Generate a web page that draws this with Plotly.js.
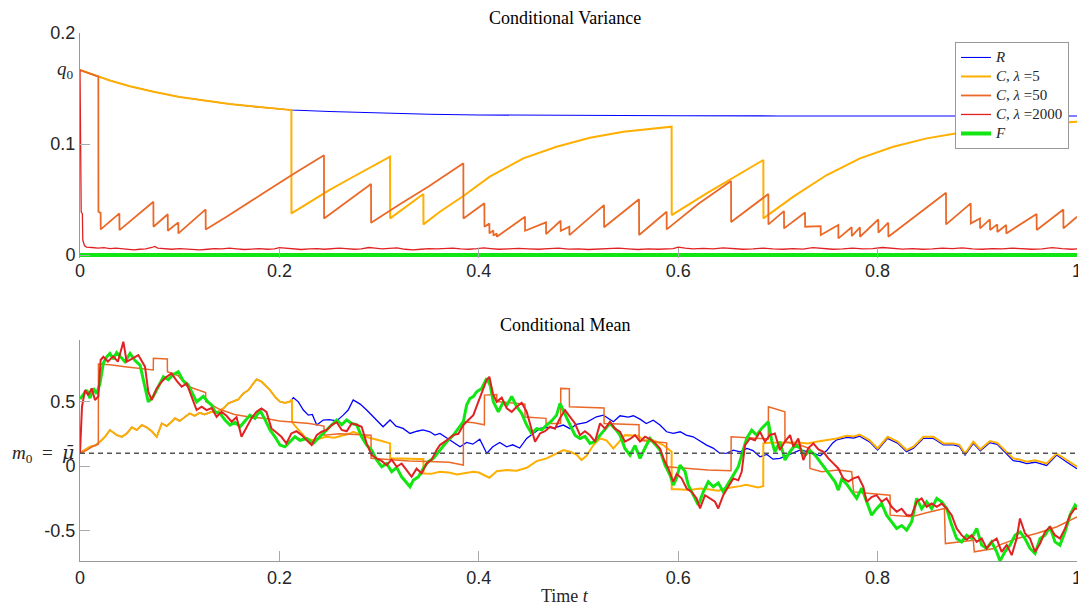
<!DOCTYPE html>
<html><head><meta charset="utf-8">
<script src="https://cdn.plot.ly/plotly-3.0.1.min.js"></script>
<style>html,body{margin:0;padding:0;background:#fff}#chart{width:1078px;height:606px}</style>
</head><body><div id="chart"></div>
<script>
// ---------- constants / labels ----------
const Q0 = 0.1667;
const M0 = 0.1;
const seriesNames = ['<i>R</i>', '<i>C</i>, <i>λ</i> =5', '<i>C</i>, <i>λ</i> =50', '<i>C</i>, <i>λ</i> =2000', '<i>F</i>'];
const seriesColors = ['#0000FF', '#FFAF00', '#EB6928', '#E12222', '#12E612'];
const xTicks = [0, 0.2, 0.4, 0.6, 0.8, 1];
const xTickText = ['0', '0.2', '0.4', '0.6', '0.8', '1'];
const varTicks = [0, 0.1, 0.2];
const varTickText = ['0', '0.1', '0.2'];
const meanTicks = [-0.5, 0, 0.5];
const meanTickText = ['-0.5', '0', '0.5'];

// ---------- conditional variance [t, q] ----------
const varR = [[0,0.1667],[0.01,0.1633],[0.02,0.1601],[0.03,0.1572],[0.05,0.1521],[0.075,0.1468],[0.1,0.1424],[0.125,0.1389],[0.15,0.136],[0.175,0.1337],[0.2,0.1318],[0.212,0.1306],[0.25,0.1293],[0.3,0.1278],[0.35,0.1268],[0.4,0.1262],[0.5,0.1256],[0.6,0.1254],[0.7,0.1253],[0.8,0.1252],[0.9,0.1252],[1,0.1252]];
const varC5 = [[0,0.1667],[0.01,0.1633],[0.02,0.1601],[0.03,0.1572],[0.05,0.1521],[0.075,0.1468],[0.1,0.1424],[0.125,0.1389],[0.15,0.136],[0.175,0.1337],[0.2,0.1318],[0.212,0.1306],[0.2121,0.0375],[0.23,0.0478],[0.25,0.0585],[0.27,0.0685],[0.29,0.0785],[0.311,0.0886],[0.3111,0.033],[0.328,0.0445],[0.3444,0.055],[0.3445,0.0276],[0.361,0.039],[0.3845,0.0532],[0.411,0.0706],[0.4446,0.0871],[0.478,0.0976],[0.5115,0.1057],[0.545,0.1111],[0.5934,0.1156],[0.5935,0.036],[0.6285,0.0556],[0.662,0.0736],[0.6854,0.0856],[0.6855,0.033],[0.7155,0.0526],[0.749,0.0721],[0.7823,0.0871],[0.8157,0.0976],[0.8493,0.1051],[0.8826,0.1102],[0.916,0.1141],[0.95,0.1172],[1,0.12]];
const varC50 = [[0,0.1667],[0.01,0.1633],[0.0184,0.1606],[0.0185,0.039],[0.0207,0.038],[0.0208,0.0231],[0.0395,0.0375],[0.0396,0.0225],[0.0736,0.048],[0.0737,0.0255],[0.088,0.0367],[0.0881,0.0219],[0.0986,0.0294],[0.0987,0.0195],[0.126,0.0411],[0.1261,0.0231],[0.147,0.0345],[0.181,0.054],[0.214,0.073],[0.2447,0.0898],[0.2448,0.033],[0.2919,0.064],[0.292,0.0291],[0.32,0.0454],[0.35,0.062],[0.3845,0.0826],[0.3846,0.033],[0.4056,0.0466],[0.4057,0.0255],[0.4106,0.0285],[0.4107,0.0195],[0.4146,0.0222],[0.4147,0.0175],[0.418,0.0195],[0.4181,0.0165],[0.4463,0.0345],[0.4464,0.0219],[0.4674,0.0294],[0.4675,0.0189],[0.4821,0.0309],[0.4822,0.0219],[0.4908,0.0255],[0.4909,0.018],[0.5256,0.045],[0.5257,0.025],[0.5607,0.0502],[0.5608,0.018],[0.5884,0.039],[0.5885,0.0231],[0.62,0.046],[0.653,0.0667],[0.6531,0.0297],[0.6904,0.055],[0.6905,0.0276],[0.7061,0.0396],[0.7062,0.024],[0.7272,0.0384],[0.7273,0.0255],[0.7429,0.0261],[0.743,0.018],[0.7606,0.027],[0.7607,0.015],[0.774,0.025],[0.7741,0.0171],[0.7823,0.025],[0.7824,0.0165],[0.8007,0.0321],[0.8008,0.0201],[0.8107,0.0291],[0.8108,0.0165],[0.8686,0.0561],[0.8687,0.0276],[0.8934,0.0466],[0.8935,0.0285],[0.9027,0.033],[0.9028,0.024],[0.9127,0.0321],[0.9128,0.0225],[0.92,0.0276],[0.9201,0.0207],[0.929,0.027],[0.9291,0.0195],[0.9595,0.037],[0.9596,0.0225],[0.9863,0.0411],[0.9864,0.024],[1,0.0345]];
const varC2000 = [[0,0.1667],[0.0012,0.039],[0.0024,0.037],[0.0028,0.0135],[0.0045,0.0085],[0.0064,0.0072],[0.012,0.0068],[0.018,0.0062],[0.024,0.0066],[0.03,0.0058],[0.036,0.0062],[0.042,0.0055],[0.048,0.0052],[0.054,0.0047],[0.06,0.0052],[0.066,0.0055],[0.072,0.0068],[0.075,0.0078],[0.078,0.0062],[0.085,0.0056],[0.092,0.0052],[0.1,0.0058],[0.107,0.0054],[0.114,0.0048],[0.12,0.0046],[0.128,0.0052],[0.135,0.0058],[0.142,0.0055],[0.15,0.0062],[0.157,0.0056],[0.165,0.005],[0.172,0.0054],[0.18,0.0058],[0.188,0.0052],[0.195,0.0055],[0.2,0.0066],[0.207,0.0062],[0.215,0.0056],[0.222,0.005],[0.23,0.0055],[0.238,0.0058],[0.245,0.0052],[0.252,0.0055],[0.26,0.0062],[0.267,0.0058],[0.275,0.0052],[0.282,0.0056],[0.29,0.0068],[0.296,0.0062],[0.303,0.0055],[0.31,0.006],[0.318,0.0064],[0.326,0.0052],[0.334,0.0047],[0.342,0.0052],[0.35,0.0058],[0.358,0.0055],[0.366,0.006],[0.374,0.0062],[0.382,0.0056],[0.39,0.0052],[0.398,0.0057],[0.405,0.0064],[0.412,0.0058],[0.42,0.0052],[0.43,0.0056],[0.44,0.006],[0.45,0.0055],[0.46,0.0052],[0.47,0.0058],[0.48,0.0062],[0.49,0.0054],[0.5,0.0056],[0.51,0.005],[0.52,0.0055],[0.53,0.0058],[0.54,0.0062],[0.55,0.0055],[0.56,0.005],[0.57,0.0056],[0.58,0.0052],[0.595,0.0058],[0.6,0.0072],[0.607,0.0062],[0.615,0.0056],[0.625,0.006],[0.635,0.0055],[0.645,0.0065],[0.655,0.0058],[0.665,0.0052],[0.675,0.0056],[0.685,0.0062],[0.695,0.0055],[0.705,0.0052],[0.715,0.0058],[0.725,0.0054],[0.735,0.0066],[0.745,0.0058],[0.755,0.0052],[0.765,0.0056],[0.775,0.0062],[0.785,0.0055],[0.795,0.0058],[0.805,0.0068],[0.815,0.006],[0.825,0.0054],[0.835,0.0058],[0.845,0.0052],[0.855,0.0056],[0.865,0.0062],[0.875,0.0058],[0.885,0.0064],[0.895,0.0056],[0.905,0.0052],[0.915,0.0058],[0.925,0.0055],[0.935,0.0062],[0.945,0.0058],[0.955,0.0052],[0.965,0.0056],[0.975,0.0066],[0.985,0.0058],[0.995,0.0052],[1,0.0056]];
const varF = [[0,0],[1,0]];

// ---------- conditional mean [t, m] ----------
const meanC5 = [[0,0.103],[0.005,0.13],[0.01,0.15],[0.015,0.16],[0.0184,0.176],[0.02,0.189],[0.025,0.227],[0.03,0.279],[0.0334,0.26],[0.037,0.24],[0.042,0.227],[0.047,0.253],[0.052,0.3],[0.057,0.28],[0.062,0.318],[0.067,0.3],[0.072,0.27],[0.077,0.227],[0.082,0.331],[0.087,0.31],[0.092,0.344],[0.0953,0.37],[0.1,0.35],[0.105,0.377],[0.11,0.408],[0.115,0.39],[0.12,0.413],[0.125,0.4],[0.132,0.421],[0.137,0.415],[0.1438,0.447],[0.1488,0.486],[0.154,0.499],[0.1588,0.517],[0.1638,0.563],[0.169,0.589],[0.1739,0.641],[0.1772,0.672],[0.1822,0.654],[0.1856,0.628],[0.1906,0.589],[0.1956,0.537],[0.2006,0.499],[0.2056,0.49],[0.2106,0.5],[0.2126,0.517],[0.2127,0.34],[0.217,0.3],[0.222,0.26],[0.227,0.215],[0.234,0.2],[0.24,0.21],[0.247,0.227],[0.255,0.22],[0.264,0.24],[0.27,0.25],[0.274,0.266],[0.28,0.25],[0.29,0.22],[0.3,0.2],[0.306,0.185],[0.311,0.176],[0.3111,0.06],[0.32,0.058],[0.33,0.052],[0.34,0.055],[0.3444,0.055],[0.3445,-0.057],[0.352,-0.06],[0.361,-0.044],[0.37,-0.05],[0.378,-0.065],[0.3945,-0.044],[0.4,-0.05],[0.4106,-0.09],[0.418,-0.04],[0.428,-0.031],[0.438,-0.035],[0.448,-0.013],[0.458,0.039],[0.468,0.06],[0.478,0.098],[0.4848,0.124],[0.4915,0.111],[0.498,0.09],[0.503,0.047],[0.508,0.08],[0.515,0.163],[0.5216,0.214],[0.528,0.2],[0.535,0.137],[0.5466,0.24],[0.553,0.235],[0.56,0.235],[0.565,0.2],[0.575,0.2],[0.585,0.163],[0.5934,0.111],[0.5935,-0.18],[0.6,-0.18],[0.61,-0.186],[0.622,-0.173],[0.63,-0.18],[0.64,-0.19],[0.65,-0.17],[0.655,-0.165],[0.662,-0.155],[0.668,-0.145],[0.675,-0.155],[0.68,-0.165],[0.6853,-0.155],[0.6854,0.176],[0.69,0.18],[0.7,0.183],[0.71,0.183],[0.72,0.182],[0.73,0.176],[0.74,0.19],[0.75,0.2],[0.759,0.214],[0.769,0.235],[0.776,0.23],[0.782,0.245],[0.787,0.22],[0.792,0.2],[0.8,0.137],[0.805,0.18],[0.81,0.227],[0.82,0.19],[0.829,0.124],[0.836,0.15],[0.846,0.227],[0.856,0.227],[0.866,0.176],[0.876,0.176],[0.882,0.165],[0.8877,0.098],[0.896,0.189],[0.903,0.13],[0.9127,0.194],[0.92,0.18],[0.9295,0.111],[0.936,0.06],[0.943,0.05],[0.9495,0.034],[0.958,0.045],[0.9695,0.02],[0.9796,0.098],[0.985,0.07],[0.99,0.045],[1,-0.005]];
const meanR = [[0,0.103],[0.005,0.13],[0.01,0.15],[0.015,0.16],[0.0184,0.176],[0.02,0.189],[0.025,0.227],[0.03,0.279],[0.0334,0.26],[0.037,0.24],[0.042,0.227],[0.047,0.253],[0.052,0.3],[0.057,0.28],[0.062,0.318],[0.067,0.3],[0.072,0.27],[0.077,0.227],[0.082,0.331],[0.087,0.31],[0.092,0.344],[0.0953,0.37],[0.1,0.35],[0.105,0.377],[0.11,0.408],[0.115,0.39],[0.12,0.413],[0.125,0.4],[0.132,0.421],[0.137,0.415],[0.1438,0.447],[0.1488,0.486],[0.154,0.499],[0.1588,0.517],[0.1638,0.563],[0.169,0.589],[0.1739,0.641],[0.1772,0.672],[0.1822,0.654],[0.1856,0.628],[0.1906,0.589],[0.1956,0.537],[0.2006,0.499],[0.2056,0.49],[0.2106,0.5],[0.2126,0.517],[0.214,0.53],[0.219,0.498],[0.224,0.434],[0.229,0.395],[0.233,0.4],[0.2374,0.318],[0.244,0.357],[0.25,0.36],[0.2574,0.35],[0.264,0.395],[0.269,0.434],[0.274,0.512],[0.281,0.48],[0.2875,0.434],[0.2925,0.395],[0.2975,0.357],[0.304,0.305],[0.311,0.357],[0.317,0.31],[0.324,0.292],[0.331,0.253],[0.338,0.27],[0.344,0.28],[0.351,0.266],[0.356,0.24],[0.361,0.253],[0.3678,0.22],[0.3745,0.189],[0.3812,0.15],[0.3878,0.183],[0.394,0.17],[0.401,0.209],[0.408,0.098],[0.414,0.15],[0.421,0.183],[0.428,0.15],[0.434,0.165],[0.441,0.14],[0.448,0.214],[0.4546,0.253],[0.4614,0.292],[0.468,0.3],[0.476,0.296],[0.4848,0.318],[0.4915,0.29],[0.498,0.323],[0.508,0.339],[0.518,0.382],[0.525,0.395],[0.535,0.344],[0.5416,0.39],[0.55,0.38],[0.555,0.39],[0.5617,0.364],[0.568,0.33],[0.575,0.355],[0.5817,0.318],[0.5884,0.266],[0.595,0.253],[0.602,0.266],[0.608,0.24],[0.615,0.227],[0.622,0.194],[0.6285,0.163],[0.635,0.14],[0.642,0.098],[0.649,0.1],[0.6553,0.124],[0.662,0.11],[0.669,0.137],[0.675,0.12],[0.682,0.072],[0.689,0.09],[0.695,0.054],[0.702,0.06],[0.709,0.08],[0.715,0.1],[0.722,0.124],[0.732,0.11],[0.7425,0.08],[0.749,0.12],[0.755,0.18],[0.759,0.204],[0.769,0.222],[0.776,0.218],[0.782,0.232],[0.787,0.208],[0.792,0.188],[0.8,0.125],[0.805,0.168],[0.81,0.215],[0.82,0.178],[0.829,0.112],[0.836,0.138],[0.846,0.215],[0.856,0.215],[0.866,0.164],[0.876,0.164],[0.882,0.153],[0.8877,0.086],[0.896,0.177],[0.903,0.118],[0.9127,0.182],[0.92,0.168],[0.9295,0.095],[0.936,0.042],[0.943,0.035],[0.9495,0.02],[0.958,0.03],[0.9695,0.005],[0.9796,0.086],[0.985,0.055],[0.99,0.03],[1,-0.02]];
const meanC50 = [[0,0.1],[0.006,0.12],[0.012,0.15],[0.0184,0.17],[0.0185,0.79],[0.03,0.785],[0.045,0.77],[0.06,0.755],[0.0735,0.745],[0.0736,0.835],[0.0876,0.83],[0.0877,0.731],[0.0986,0.7],[0.107,0.62],[0.126,0.57],[0.1261,0.5],[0.14,0.44],[0.155,0.4],[0.17,0.38],[0.185,0.37],[0.2,0.35],[0.215,0.34],[0.23,0.33],[0.2447,0.31],[0.2448,0.24],[0.26,0.25],[0.275,0.245],[0.2919,0.24],[0.292,0.06],[0.31,0.05],[0.33,0.04],[0.35,0.035],[0.37,0.03],[0.3845,0.008],[0.3846,0.344],[0.395,0.335],[0.4056,0.32],[0.4057,0.55],[0.418,0.555],[0.4181,0.5],[0.43,0.49],[0.4463,0.48],[0.4464,0.38],[0.4674,0.37],[0.4675,0.33],[0.4821,0.33],[0.4822,0.602],[0.4908,0.6],[0.4909,0.46],[0.51,0.455],[0.5256,0.45],[0.5257,0.33],[0.545,0.325],[0.5607,0.32],[0.5608,0.2],[0.575,0.19],[0.5884,0.18],[0.5885,-0.005],[0.61,-0.02],[0.63,-0.03],[0.653,-0.035],[0.6531,0.227],[0.67,0.22],[0.6904,0.21],[0.6905,0.46],[0.707,0.421],[0.7071,0.188],[0.722,0.163],[0.732,0.137],[0.7321,-0.018],[0.744,-0.044],[0.7606,-0.031],[0.774,-0.044],[0.776,-0.2],[0.79,-0.21],[0.8125,-0.225],[0.8126,-0.38],[0.834,-0.393],[0.85,-0.36],[0.867,-0.328],[0.868,-0.6],[0.896,-0.574],[0.897,-0.664],[0.917,-0.638],[0.922,-0.612],[0.94,-0.56],[0.96,-0.52],[0.98,-0.47],[1,-0.393]];
const meanF = [[0,0.52],[0.003,0.55],[0.0067,0.589],[0.01,0.527],[0.0134,0.602],[0.0167,0.56],[0.02,0.641],[0.0234,0.796],[0.0268,0.847],[0.03,0.873],[0.0334,0.83],[0.0368,0.88],[0.0401,0.85],[0.0451,0.809],[0.0502,0.873],[0.055,0.82],[0.0602,0.783],[0.064,0.66],[0.0685,0.498],[0.0735,0.54],[0.0802,0.641],[0.0836,0.692],[0.0886,0.67],[0.0936,0.71],[0.0986,0.731],[0.1036,0.66],[0.1086,0.628],[0.113,0.56],[0.117,0.498],[0.1204,0.52],[0.1237,0.54],[0.128,0.5],[0.132,0.473],[0.1354,0.421],[0.1404,0.408],[0.1454,0.357],[0.1505,0.318],[0.1555,0.34],[0.1605,0.305],[0.1655,0.35],[0.1705,0.395],[0.1755,0.37],[0.1805,0.434],[0.1856,0.36],[0.1906,0.279],[0.1956,0.227],[0.2006,0.163],[0.2056,0.15],[0.2106,0.19],[0.2156,0.227],[0.2206,0.2],[0.2274,0.214],[0.234,0.176],[0.2407,0.23],[0.2474,0.279],[0.2524,0.318],[0.2574,0.357],[0.2625,0.32],[0.2675,0.357],[0.2725,0.33],[0.2775,0.32],[0.2825,0.227],[0.2875,0.163],[0.2925,0.124],[0.2976,0.047],[0.3026,-0.005],[0.3076,0.02],[0.3126,-0.044],[0.3176,-0.01],[0.3226,-0.083],[0.3276,-0.134],[0.331,-0.16],[0.3343,-0.11],[0.3394,-0.083],[0.3444,-0.018],[0.3494,0.034],[0.3544,0.06],[0.361,0.12],[0.3678,0.189],[0.3745,0.24],[0.3795,0.292],[0.3845,0.344],[0.3878,0.473],[0.3912,0.525],[0.3945,0.538],[0.3979,0.576],[0.4029,0.602],[0.4079,0.68],[0.4113,0.628],[0.4146,0.498],[0.4196,0.421],[0.4246,0.498],[0.428,0.47],[0.433,0.54],[0.438,0.46],[0.443,0.408],[0.448,0.318],[0.453,0.253],[0.458,0.29],[0.463,0.28],[0.468,0.318],[0.473,0.35],[0.478,0.395],[0.4815,0.486],[0.4865,0.4],[0.4915,0.318],[0.4965,0.24],[0.5015,0.214],[0.5065,0.23],[0.5115,0.176],[0.5165,0.19],[0.5216,0.24],[0.5266,0.29],[0.5316,0.331],[0.5366,0.29],[0.5416,0.24],[0.5466,0.137],[0.5517,0.085],[0.5567,0.16],[0.5617,0.06],[0.5667,0.14],[0.5717,0.214],[0.5767,0.17],[0.5817,0.124],[0.5868,0.008],[0.5918,-0.07],[0.5951,-0.147],[0.5985,-0.09],[0.6018,0.008],[0.6068,-0.04],[0.6101,-0.147],[0.6151,-0.225],[0.6202,-0.302],[0.6252,-0.199],[0.6302,-0.121],[0.6352,-0.16],[0.6402,-0.13],[0.6452,-0.199],[0.6502,-0.14],[0.6553,-0.07],[0.6603,-0.005],[0.6653,0.137],[0.6687,0.214],[0.6737,0.279],[0.6787,0.24],[0.6837,0.292],[0.6904,0.344],[0.6937,0.2],[0.697,0.111],[0.702,0.189],[0.7071,0.047],[0.712,0.11],[0.7172,0.163],[0.722,0.14],[0.7272,0.085],[0.732,0.12],[0.7372,0.085],[0.7422,0.034],[0.7472,-0.018],[0.7523,-0.07],[0.7573,-0.121],[0.7606,-0.186],[0.764,-0.1],[0.769,-0.14],[0.774,-0.199],[0.779,-0.25],[0.784,-0.17],[0.789,-0.276],[0.794,-0.38],[0.799,-0.33],[0.804,-0.289],[0.809,-0.38],[0.8141,-0.432],[0.8191,-0.483],[0.8241,-0.46],[0.8292,-0.496],[0.8342,-0.43],[0.8392,-0.25],[0.8442,-0.33],[0.8492,-0.276],[0.8542,-0.33],[0.8593,-0.25],[0.8643,-0.276],[0.8693,-0.328],[0.8743,-0.457],[0.8793,-0.561],[0.8843,-0.587],[0.8893,-0.535],[0.8943,-0.56],[0.8994,-0.483],[0.9044,-0.612],[0.9094,-0.638],[0.9144,-0.587],[0.9194,-0.664],[0.9228,-0.734],[0.928,-0.66],[0.9328,-0.612],[0.9378,-0.535],[0.943,-0.51],[0.9478,-0.561],[0.9529,-0.638],[0.9579,-0.677],[0.963,-0.56],[0.9679,-0.535],[0.9729,-0.47],[0.9779,-0.587],[0.9829,-0.612],[0.988,-0.509],[0.993,-0.38],[0.998,-0.302],[1,-0.32]];
const meanC2000 = [[0,0.1],[0.002,0.46],[0.005,0.589],[0.0083,0.55],[0.0117,0.602],[0.015,0.512],[0.0184,0.54],[0.0207,0.822],[0.0234,0.847],[0.028,0.81],[0.0334,0.85],[0.038,0.809],[0.0435,0.964],[0.0468,0.809],[0.052,0.83],[0.0585,0.86],[0.0652,0.77],[0.0685,0.576],[0.0719,0.512],[0.0769,0.602],[0.0819,0.654],[0.0869,0.692],[0.0919,0.718],[0.097,0.66],[0.102,0.615],[0.107,0.641],[0.112,0.537],[0.117,0.434],[0.122,0.46],[0.127,0.434],[0.132,0.45],[0.137,0.382],[0.142,0.42],[0.147,0.39],[0.152,0.344],[0.157,0.38],[0.162,0.227],[0.167,0.305],[0.172,0.37],[0.177,0.421],[0.182,0.447],[0.187,0.42],[0.192,0.292],[0.197,0.26],[0.202,0.227],[0.207,0.176],[0.212,0.253],[0.217,0.27],[0.2224,0.24],[0.2274,0.2],[0.2324,0.163],[0.2374,0.24],[0.2424,0.266],[0.2474,0.28],[0.2525,0.318],[0.2575,0.34],[0.2625,0.28],[0.2675,0.27],[0.2725,0.331],[0.2775,0.32],[0.2825,0.305],[0.2875,0.176],[0.2925,0.085],[0.2975,0.06],[0.3025,0.04],[0.3076,0.008],[0.3126,0.05],[0.3176,-0.005],[0.3226,0.02],[0.3276,-0.031],[0.3326,-0.083],[0.3376,-0.02],[0.3427,-0.057],[0.3477,0.021],[0.3527,0.05],[0.3577,0.124],[0.361,0.163],[0.3678,0.2],[0.3745,0.24],[0.3795,0.25],[0.3845,0.318],[0.3895,0.357],[0.3945,0.395],[0.3995,0.498],[0.4045,0.602],[0.4079,0.667],[0.4106,0.692],[0.4142,0.56],[0.4179,0.498],[0.423,0.53],[0.428,0.447],[0.433,0.42],[0.438,0.46],[0.443,0.49],[0.448,0.421],[0.452,0.318],[0.4564,0.189],[0.4614,0.253],[0.4664,0.27],[0.4714,0.305],[0.4764,0.29],[0.4814,0.37],[0.4865,0.434],[0.4915,0.382],[0.4965,0.33],[0.5015,0.24],[0.5065,0.27],[0.5115,0.24],[0.5165,0.189],[0.5216,0.331],[0.5266,0.29],[0.5316,0.344],[0.5366,0.29],[0.5416,0.266],[0.5466,0.189],[0.5517,0.21],[0.5567,0.24],[0.5617,0.19],[0.5667,0.228],[0.5717,0.21],[0.5767,0.18],[0.5817,0.137],[0.5858,0.047],[0.5901,-0.018],[0.5951,-0.121],[0.5985,-0.06],[0.6034,-0.095],[0.6085,-0.173],[0.6135,-0.2],[0.6185,-0.25],[0.6219,-0.328],[0.6269,-0.225],[0.6319,-0.25],[0.6369,-0.276],[0.6402,-0.328],[0.6452,-0.225],[0.6502,-0.16],[0.6553,-0.095],[0.6603,-0.11],[0.6637,-0.044],[0.667,0.163],[0.672,0.214],[0.677,0.2],[0.682,0.266],[0.687,0.189],[0.692,0.24],[0.697,0.253],[0.702,0.124],[0.707,0.19],[0.7122,0.24],[0.7155,0.15],[0.7205,0.214],[0.7255,0.047],[0.7305,0.14],[0.7356,0.176],[0.7406,0.13],[0.7456,0.111],[0.7506,0.06],[0.7556,0.021],[0.7606,-0.018],[0.7656,-0.095],[0.7706,-0.12],[0.7757,-0.095],[0.7807,-0.083],[0.7857,-0.16],[0.789,-0.276],[0.794,-0.24],[0.799,-0.225],[0.804,-0.276],[0.809,-0.25],[0.8141,-0.315],[0.8191,-0.354],[0.8241,-0.33],[0.8292,-0.38],[0.8342,-0.38],[0.8392,-0.276],[0.8442,-0.25],[0.8492,-0.315],[0.8542,-0.29],[0.8593,-0.315],[0.8643,-0.29],[0.8693,-0.328],[0.8743,-0.38],[0.8793,-0.483],[0.8843,-0.535],[0.8893,-0.57],[0.8943,-0.535],[0.8994,-0.587],[0.9044,-0.56],[0.9094,-0.638],[0.9144,-0.587],[0.9194,-0.561],[0.9244,-0.664],[0.9295,-0.61],[0.9345,-0.69],[0.9395,-0.56],[0.9428,-0.406],[0.9478,-0.52],[0.9529,-0.561],[0.9579,-0.664],[0.963,-0.6],[0.9679,-0.509],[0.9729,-0.47],[0.9779,-0.535],[0.9829,-0.561],[0.988,-0.483],[0.993,-0.38],[0.998,-0.328],[1,-0.33]];
const meanRef = [[0,M0],[1,M0]];

// ---------- drawing ----------
const xs = p => p.map(d => d[0]);
const ys = p => p.map(d => d[1]);
const SERIF = 'Liberation Serif, Times New Roman, serif';
const SANS = 'Liberation Sans, Arial, sans-serif';

const topSeries = [varR, varC5, varC50, varC2000, varF];
const topWidths = [1.1, 2, 1.8, 1.3, 4];
const traces = topSeries.map((s, i) => ({
  x: xs(s), y: ys(s), type: 'scatter', mode: 'lines',
  name: '<span style="font-size:15px">' + seriesNames[i] + '</span>',
  line: {color: seriesColors[i], width: topWidths[i]}, xaxis: 'x', yaxis: 'y', hoverinfo: 'skip'
}));
const botSeries = [meanR, meanC5, meanC50, meanF, meanC2000];
const botIdx = [0, 1, 2, 4, 3];
const botWidths = [1.3, 2, 1.5, 3, 2];
botSeries.forEach((s, k) => traces.push({
  x: xs(s), y: ys(s), type: 'scatter', mode: 'lines', showlegend: false,
  line: {color: seriesColors[botIdx[k]], width: botWidths[k]}, xaxis: 'x2', yaxis: 'y2', hoverinfo: 'skip'
}));
traces.push({x: xs(meanRef), y: ys(meanRef), type: 'scatter', mode: 'lines', showlegend: false,
  line: {color: '#555555', width: 1.5, dash: '5px,4px'}, xaxis: 'x2', yaxis: 'y2', hoverinfo: 'skip'});

const axisCommon = {
  showgrid: false, zeroline: false, ticks: 'inside', ticklen: 10, tickwidth: 1,
  tickcolor: '#aaaaaa', linecolor: '#999999', linewidth: 1, ticklabeloverflow: 'allow',
  tickfont: {family: SANS, size: 18, color: '#262626'}, fixedrange: true
};
const TITLE_X = 0.4865;
const layout = {
  width: 1078, height: 606,
  margin: {l: 80, r: 1, t: 33, b: 45},
  paper_bgcolor: '#ffffff', plot_bgcolor: '#ffffff',
  showlegend: true,
  legend: {x: 0.992, xanchor: 'right', y: 0.983, yanchor: 'top', bgcolor: '#ffffff',
    bordercolor: '#999999', borderwidth: 1, font: {family: SERIF, size: 11, color: '#262626'},
    tracegroupgap: 0, itemwidth: 30},
  xaxis: Object.assign({}, axisCommon, {domain: [0, 1], range: [0, 1], anchor: 'y',
    tickvals: xTicks, ticktext: xTickText, showline: false}),
  yaxis: Object.assign({}, axisCommon, {domain: [0.5742, 1], range: [-0.0025, 0.2], anchor: 'x',
    tickvals: varTicks, ticktext: varTickText, showline: true}),
  xaxis2: Object.assign({}, axisCommon, {domain: [0, 1], range: [0, 1], anchor: 'y2',
    tickvals: xTicks, ticktext: xTickText, showline: true}),
  yaxis2: Object.assign({}, axisCommon, {domain: [0, 0.4186], range: [-0.735, 0.977], anchor: 'x2',
    tickvals: meanTicks, ticktext: meanTickText, showline: true}),
  annotations: [
    {text: 'Conditional Variance', xref: 'paper', yref: 'paper', x: TITLE_X, y: 1.028, xanchor: 'center', yanchor: 'middle',
      showarrow: false, font: {family: SERIF, size: 18, color: '#000000'}},
    {text: 'Conditional Mean', xref: 'paper', yref: 'paper', x: TITLE_X, y: 0.447, xanchor: 'center', yanchor: 'middle',
      showarrow: false, font: {family: SERIF, size: 18, color: '#000000'}},
    {text: 'Time <i>t</i>', xref: 'paper', yref: 'paper', x: TITLE_X, y: -0.067, xanchor: 'center', yanchor: 'middle',
      showarrow: false, font: {family: SERIF, size: 18, color: '#262626'}},
    {text: '<i>q</i><sub>0</sub>', xref: 'paper', yref: 'y', x: 0, y: Q0, xanchor: 'right', yanchor: 'middle',
      xshift: -4, showarrow: false, font: {family: SERIF, size: 19, color: '#262626'}},
    {text: '<i>m</i><sub>0</sub>&nbsp;&nbsp;=&nbsp;&nbsp;<span style="font-family:\'DejaVu Serif\'"><i>μ\u0304</i></span>', xref: 'paper', yref: 'y2', x: 0, y: M0,
      xanchor: 'right', yanchor: 'middle', xshift: -4, showarrow: false, font: {family: SERIF, size: 19, color: '#262626'}}
  ]
};
Plotly.newPlot('chart', traces, layout, {staticPlot: true, displayModeBar: false});
</script>
</body></html>
